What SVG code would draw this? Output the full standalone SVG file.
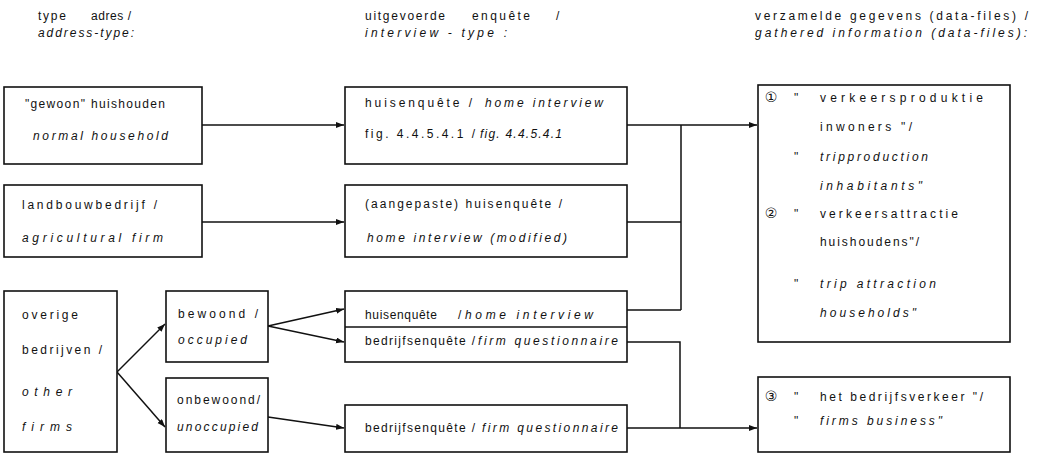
<svg xmlns="http://www.w3.org/2000/svg" width="1040" height="469" viewBox="0 0 1040 469">
<style>
text{font-family:"Liberation Sans",Arial,sans-serif;font-size:12px;fill:#111}
.i{font-style:italic}
.num{font-family:"DejaVu Sans",sans-serif;font-size:14px}
.box{fill:#fff;stroke:#111;stroke-width:1.6}
.ln{fill:none;stroke:#111;stroke-width:1.5}
</style>
<defs>
<marker id="ah" markerWidth="9" markerHeight="7" refX="8" refY="3" orient="auto" markerUnits="userSpaceOnUse">
<path d="M0,0 L8,3 L0,6 z" fill="#111"/>
</marker>
</defs>

<g id="headers">
<text x="38" y="20" textLength="28" lengthAdjust="spacing">type</text>
<text x="91" y="20" textLength="40" lengthAdjust="spacing">adres /</text>
<text x="38" y="37" class="i" textLength="96" lengthAdjust="spacing">address-type:</text>
<text x="365" y="20" textLength="80" lengthAdjust="spacing">uitgevoerde</text>
<text x="472" y="20" textLength="58" lengthAdjust="spacing">enquête</text>
<text x="556" y="20">/</text>
<text x="365" y="37" class="i" textLength="142" lengthAdjust="spacing">interview - type :</text>
<text x="755" y="20" textLength="273" lengthAdjust="spacing">verzamelde gegevens (data-files) /</text>
<text x="755" y="37" class="i" textLength="272" lengthAdjust="spacing">gathered information (data-files):</text>
</g>

<g id="connectors">
<path class="ln" d="M202,125 H344" marker-end="url(#ah)"/>
<path class="ln" d="M202,222 H344" marker-end="url(#ah)"/>
<path class="ln" d="M627,125 H757" marker-end="url(#ah)"/>
<path class="ln" d="M681,125 V310 M627,222 H681 M627,310 H681"/>
<path class="ln" d="M627,342 H680 V428 M627,428 H757" marker-end="url(#ah)"/>
<path class="ln" d="M117,372 L165,324" marker-end="url(#ah)"/>
<path class="ln" d="M117,372 L165,427" marker-end="url(#ah)"/>
<path class="ln" d="M268,326 L344,309" marker-end="url(#ah)"/>
<path class="ln" d="M268,326 L344,342" marker-end="url(#ah)"/>
<path class="ln" d="M268,417 L344,428" marker-end="url(#ah)"/>
</g>

<g id="n-gewoon">
<rect class="box" x="4" y="87" width="198" height="77"/>
<text x="25" y="108" textLength="140" lengthAdjust="spacing">"gewoon" huishouden</text>
<text x="33" y="140" class="i" textLength="135" lengthAdjust="spacing">normal household</text>
</g>

<g id="n-landbouw">
<rect class="box" x="4" y="185" width="198" height="72"/>
<text x="22" y="209" textLength="135" lengthAdjust="spacing">landbouwbedrijf /</text>
<text x="22" y="242" class="i" textLength="141" lengthAdjust="spacing">agricultural firm</text>
</g>

<g id="n-overige">
<rect class="box" x="4" y="291" width="113" height="161"/>
<text x="22" y="319" textLength="56" lengthAdjust="spacing">overige</text>
<text x="22" y="354" textLength="80" lengthAdjust="spacing">bedrijven /</text>
<text x="22" y="396" class="i" textLength="50" lengthAdjust="spacing">other</text>
<text x="22" y="431" class="i" textLength="50" lengthAdjust="spacing">firms</text>
</g>

<g id="n-bewoond">
<rect class="box" x="166" y="291" width="102" height="71"/>
<text x="178" y="318" textLength="80" lengthAdjust="spacing">bewoond /</text>
<text x="178" y="344" class="i" textLength="69" lengthAdjust="spacing">occupied</text>
</g>

<g id="n-onbewoond">
<rect class="box" x="166" y="378" width="102" height="74"/>
<text x="177" y="404" textLength="83" lengthAdjust="spacing">onbewoond/</text>
<text x="177" y="431" class="i" textLength="81" lengthAdjust="spacing">unoccupied</text>
</g>

<g id="n-huis1">
<rect class="box" x="345" y="87" width="282" height="77"/>
<text x="365" y="107" textLength="107" lengthAdjust="spacing">huisenquête /</text>
<text x="485" y="107" class="i" textLength="118" lengthAdjust="spacing">home interview</text>
<text x="365" y="138" textLength="110" lengthAdjust="spacing">fig. 4.4.5.4.1 /</text>
<text x="480" y="138" class="i" textLength="82" lengthAdjust="spacing">fig. 4.4.5.4.1</text>
</g>

<g id="n-huis2">
<rect class="box" x="345" y="185" width="282" height="72"/>
<text x="365" y="208" textLength="197" lengthAdjust="spacing">(aangepaste) huisenquête /</text>
<text x="367" y="242" class="i" textLength="200" lengthAdjust="spacing">home interview (modified)</text>
</g>

<g id="n-huis3">
<rect class="box" x="345" y="291" width="282" height="71"/>
<line class="ln" x1="345" y1="327" x2="627" y2="327"/>
<text x="365" y="319" textLength="72" lengthAdjust="spacing">huisenquête</text>
<text x="458" y="319">/</text>
<text x="465" y="319" class="i" textLength="128" lengthAdjust="spacing">home interview</text>
<text x="365" y="345" textLength="110" lengthAdjust="spacing">bedrijfsenquête /</text>
<text x="478" y="345" class="i" textLength="140" lengthAdjust="spacing">firm questionnaire</text>
</g>

<g id="n-bedrijf">
<rect class="box" x="345" y="405" width="282" height="47"/>
<text x="365" y="432" textLength="110" lengthAdjust="spacing">bedrijfsenquête /</text>
<text x="482" y="432" class="i" textLength="136" lengthAdjust="spacing">firm questionnaire</text>
</g>

<g id="n-data12">
<rect class="box" x="758" y="85" width="252" height="257"/>
<text x="771" y="102" class="num" text-anchor="middle">①</text>
<text x="794" y="102">"</text>
<text x="820" y="102" textLength="163" lengthAdjust="spacing">verkeersproduktie</text>
<text x="820" y="131" textLength="92" lengthAdjust="spacing">inwoners "/</text>
<text x="794" y="161">"</text>
<text x="820" y="161" class="i" textLength="108" lengthAdjust="spacing">tripproduction</text>
<text x="820" y="190" class="i" textLength="102" lengthAdjust="spacing">inhabitants"</text>
<text x="771" y="218" class="num" text-anchor="middle">②</text>
<text x="794" y="218">"</text>
<text x="820" y="218" textLength="138" lengthAdjust="spacing">verkeersattractie</text>
<text x="820" y="246" textLength="99" lengthAdjust="spacing">huishoudens"/</text>
<text x="794" y="288">"</text>
<text x="820" y="288" class="i" textLength="116" lengthAdjust="spacing">trip attraction</text>
<text x="820" y="317" class="i" textLength="96" lengthAdjust="spacing">households"</text>
</g>

<g id="n-data3">
<rect class="box" x="758" y="377" width="252" height="75"/>
<text x="771" y="401" class="num" text-anchor="middle">③</text>
<text x="794" y="401">"</text>
<text x="820" y="401" textLength="163" lengthAdjust="spacing">het bedrijfsverkeer "/</text>
<text x="794" y="425">"</text>
<text x="820" y="425" class="i" textLength="122" lengthAdjust="spacing">firms business"</text>
</g>
</svg>
